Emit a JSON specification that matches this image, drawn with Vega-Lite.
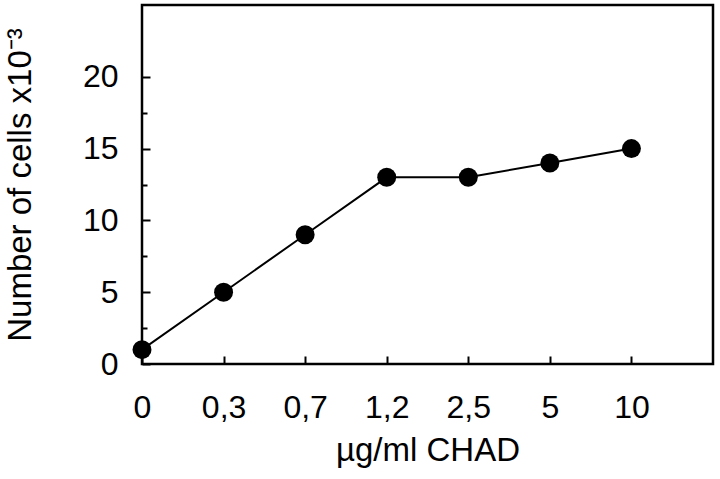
{
  "$schema": "https://vega.github.io/schema/vega-lite/v6.json",
  "autosize": "none",
  "width": 571,
  "height": 359,
  "padding": {"left": 142, "top": 5, "right": 7, "bottom": 115},
  "background": "white",
  "config": {
    "font": "Liberation Sans",
    "view": {"stroke": "black", "strokeWidth": 2.5},
    "axis": {
      "labelFont": "Liberation Sans",
      "titleFont": "Liberation Sans",
      "labelFontSize": 32,
      "titleFontSize": 33,
      "labelFontWeight": "normal",
      "titleFontWeight": "normal",
      "labelColor": "black",
      "titleColor": "black",
      "tickColor": "black",
      "tickWidth": 2,
      "domain": false,
      "grid": false
    }
  },
  "data": {
    "values": [
      {"dose": "0", "cells": 1},
      {"dose": "0,3", "cells": 5},
      {"dose": "0,7", "cells": 9},
      {"dose": "1,2", "cells": 13},
      {"dose": "2,5", "cells": 13},
      {"dose": "5", "cells": 14},
      {"dose": "10", "cells": 15}
    ]
  },
  "encoding": {
    "x": {
      "field": "dose",
      "type": "ordinal",
      "sort": null,
      "scale": {"type": "point", "domain": ["0", "0,3", "0,7", "1,2", "2,5", "5", "10", " "], "padding": 0},
      "axis": {
        "values": ["0", "0,3", "0,7", "1,2", "2,5", "5", "10"],
        "labelAngle": 0,
        "tickSize": -8,
        "labelPadding": 36,
        "title": "µg/ml CHAD",
        "titlePadding": 11
      }
    },
    "y": {
      "field": "cells",
      "type": "quantitative",
      "scale": {"domain": [0, 25], "nice": false},
      "axis": {
        "values": [0, 2.5, 5, 7.5, 10, 12.5, 15, 17.5, 20],
        "tickSize": {"condition": {"test": "datum.value % 5 === 0", "value": -8}, "value": -5},
        "labelExpr": "datum.value % 5 === 0 ? datum.label : ''",
        "labelPadding": 32,
        "title": "Number of cells x10⁻³",
        "titlePadding": 45
      }
    }
  },
  "layer": [
    {"mark": {"type": "line", "color": "black", "strokeWidth": 2}},
    {"mark": {"type": "point", "filled": true, "color": "black", "opacity": 1, "size": 360}}
  ]
}
